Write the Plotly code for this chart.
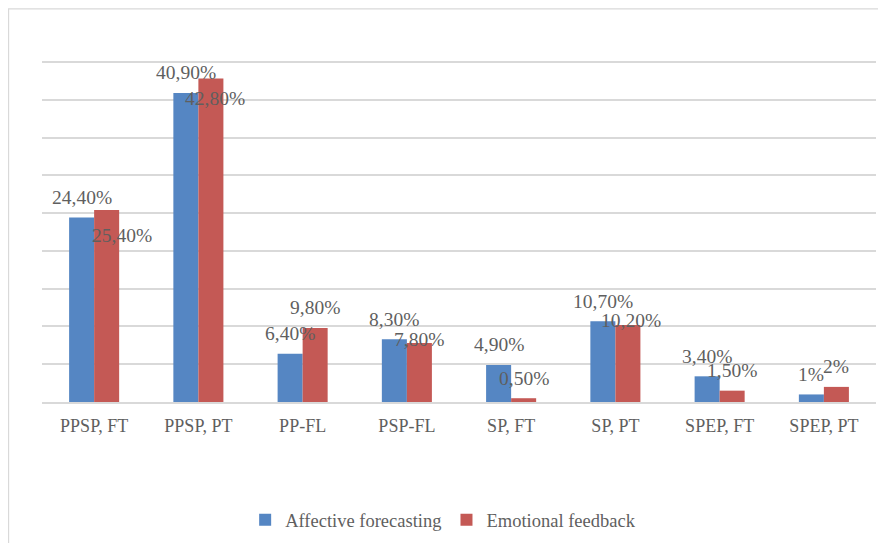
import plotly.graph_objects as go

categories = ["PPSP, FT", "PPSP, PT", "PP-FL", "PSP-FL", "SP, FT", "SP, PT", "SPEP, FT", "SPEP, PT"]
affective = [24.4, 40.9, 6.4, 8.3, 4.9, 10.7, 3.4, 1]
feedback = [25.4, 42.8, 9.8, 7.8, 0.5, 10.2, 1.5, 2]
affective_text = ["24,40%", "40,90%", "6,40%", "8,30%", "4,90%", "10,70%", "3,40%", "1%"]
feedback_text = ["25,40%", "42,80%", "9,80%", "7,80%", "0,50%", "10,20%", "1,50%", "2%"]

# label placement tweaks (pixels), as in the original chart
feedback_dx = [15.5, 4, 0, 0, 0, 3, 0, 0]
feedback_dy = [-25, -20, 20, 4, 20, 4.5, 20, 20]

BLUE = "#5586C3"
RED = "#C45955"
TXT = "#5f5f5f"
FONT = "Liberation Serif"
FS = 18
LFS = 19.5

fig = go.Figure()
fig.add_trace(go.Bar(name="Affective forecasting", x=categories, y=affective,
                     marker=dict(color=BLUE, line=dict(width=0))))
fig.add_trace(go.Bar(name="Emotional feedback", x=categories, y=feedback,
                     marker=dict(color=RED, line=dict(width=0))))

for i, c in enumerate(categories):
    fig.add_annotation(x=c, y=affective[i], xref="x", yref="y", text=affective_text[i],
                       showarrow=False, xshift=-12.5, yshift=20, yanchor="middle",
                       font=dict(family=FONT, size=LFS, color=TXT))
    fig.add_annotation(x=c, y=feedback[i], xref="x", yref="y", text=feedback_text[i],
                       showarrow=False, xshift=12.5 + feedback_dx[i], yshift=feedback_dy[i],
                       yanchor="middle", font=dict(family=FONT, size=LFS, color=TXT))

# chart-area border (cropped at right and bottom)
fig.add_shape(type="rect", xref="paper", yref="paper", x0=-0.0401, x1=1.2, y0=-0.6, y1=1.1297,
              line=dict(color="#d9d9d9", width=1.2), fillcolor="rgba(0,0,0,0)", layer="below")

fig.update_layout(
    width=886, height=543, autosize=False,
    margin=dict(l=34, r=18, t=46, b=147),
    paper_bgcolor="white", plot_bgcolor="white",
    barmode="group", bargap=0.52, bargroupgap=0,
    font=dict(family=FONT, size=FS, color=TXT),
    showlegend=True,
    legend=dict(orientation="h", x=0.481, xanchor="center", y=-0.34, yanchor="middle",
                font=dict(family=FONT, size=18.5, color=TXT), itemwidth=30),
    xaxis=dict(showgrid=False, showline=True, linecolor="#d9d9d9", linewidth=1.5,
               ticks="", ticklabelstandoff=7, tickfont=dict(family=FONT, size=FS, color=TXT)),
    yaxis=dict(range=[0, 46.05], dtick=5, showticklabels=False, showgrid=True,
               gridcolor="#d9d9d9", gridwidth=1.5, zeroline=False, showline=False, ticks=""),
)

fig.write_html("out.html")
